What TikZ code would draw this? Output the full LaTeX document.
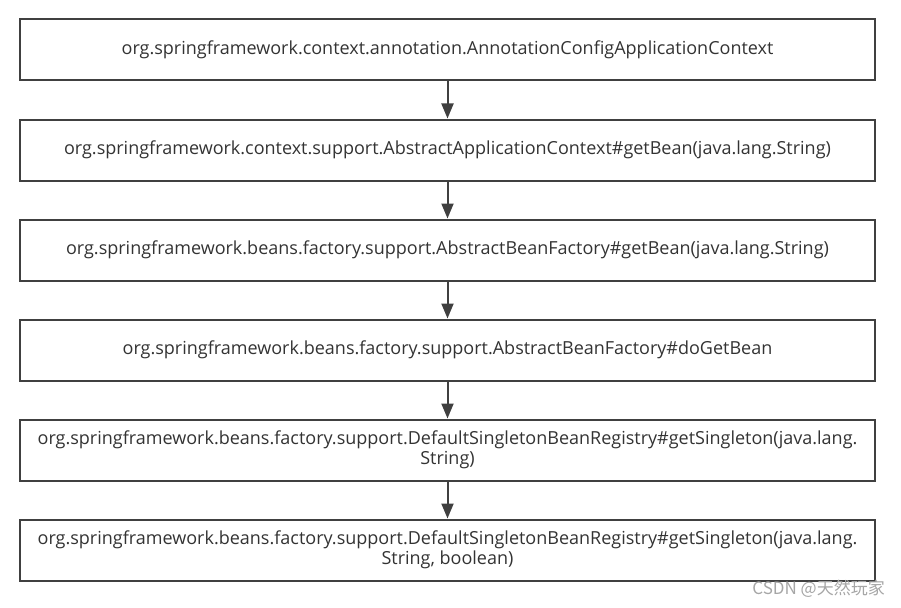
\documentclass[tikz,border=0pt]{standalone}
\usepackage{fontspec}
\setmainfont{Open Sans}
\newfontfamily\cjkfont{Noto Sans CJK SC}
\usetikzlibrary{arrows.meta}
\definecolor{linegray}{HTML}{404040}
\definecolor{textgray}{HTML}{333333}
\tikzset{
  callbox/.style={draw=linegray, line width=2pt, minimum width=855pt, minimum height=61pt,
    inner sep=0pt, align=center, text=textgray, font=\fontsize{18}{20}\selectfont},
  callarrow/.style={draw=linegray, line width=2pt, -{Triangle[width=12pt,length=15pt]}}
}
\begin{document}
\begin{tikzpicture}[x=1pt, y=-1pt]
        \useasboundingbox (0,0) rectangle (901,607);
        \node[callbox] (ctx) at (447.5, 50) {org.springframework.context.annotation.AnnotationConfigApplicationContext};
        \node[callbox] (appget) at (447.5, 150) {org.springframework.context.support.AbstractApplicationContext\#getBean(java.lang.String)};
        \node[callbox] (facget) at (447.5, 250) {org.springframework.beans.factory.support.AbstractBeanFactory\#getBean(java.lang.String)};
        \node[callbox] (doget) at (447.5, 350) {org.springframework.beans.factory.support.AbstractBeanFactory\#doGetBean};
        \node[callbox] (single) at (447.5, 450) {org.springframework.beans.factory.support.DefaultSingletonBeanRegistry\#getSingleton(java.lang.\\String)};
        \node[callbox] (singlebool) at (447.5, 550) {org.springframework.beans.factory.support.DefaultSingletonBeanRegistry\#getSingleton(java.lang.\\String, boolean)};
        % calls
        \draw[callarrow] (ctx) -- (appget);
        \draw[callarrow] (appget) -- (facget);
        \draw[callarrow] (facget) -- (doget);
        \draw[callarrow] (doget) -- (single);
        \draw[callarrow] (single) -- (singlebool);
        \node[anchor=east, text=gray!70, font=\cjkfont\fontsize{17}{19}\selectfont, inner sep=0pt] (mark) at (885, 589) {CSDN @天然玩家};
\end{tikzpicture}
\end{document}
